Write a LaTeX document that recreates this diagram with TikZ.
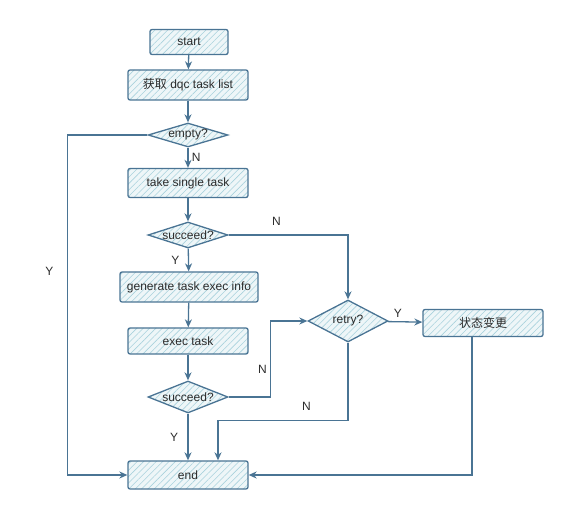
\documentclass[tikz,border=0pt]{standalone}
\usepackage{fontspec}
\setmainfont{Liberation Sans}
\newfontfamily\cjk{Noto Sans CJK SC}
\usetikzlibrary{shapes.geometric, arrows.meta, positioning, calc, patterns.meta}
\definecolor{linec}{HTML}{4A7494}
\definecolor{fillc}{HTML}{EEF6F8}
\definecolor{hatchc}{HTML}{A9D2DD}
\definecolor{textc}{HTML}{2B2B2B}

\begin{document}
\begin{tikzpicture}[x=1pt, y=-1pt, >={Stealth[length=8pt, width=7pt]}, font=\fontsize{12}{14}\selectfont, text=textc,
	proc/.style={draw=linec, line width=1.3pt, rectangle, rounded corners=2pt, minimum width=120pt, minimum height=30pt,
		preaction={fill=fillc}, pattern={Lines[angle=45, distance=4.5pt, line width=0.6pt]}, pattern color=hatchc},
	dec/.style={draw=linec, line width=1.3pt, diamond, aspect=3.2, inner sep=0pt, minimum width=80pt, minimum height=26pt,
		preaction={fill=fillc}, pattern={Lines[angle=45, distance=4.5pt, line width=0.6pt]}, pattern color=hatchc},
	link/.style={->, draw=linec, line width=1.3pt}]
				\useasboundingbox (0,0) rectangle (566,516);
				\node[proc, minimum width=78pt, minimum height=25pt] (start) at (189, 42) {start};
				\node[proc] (fetch) at (188, 85) {{\cjk 获取} dqc task list};
				\node[dec, minimum height=24pt] (empty) at (188, 135) {empty?};
				\node[proc, minimum height=29pt] (take) at (188, 183) {take single task};
				\node[dec] (ok1) at (188, 235) {succeed?};
				\node[proc, minimum width=138pt] (gen) at (189, 287) {generate task exec info};
				\node[proc, minimum height=26pt] (exec) at (188, 341) {exec task};
				\node[dec, minimum height=32pt] (ok2) at (188, 397) {succeed?};
				\node[proc, minimum height=28pt] (end) at (188, 475) {end};
				\node[dec, minimum height=42pt] (retry) at (348, 321) {retry?};
				\node[proc, minimum height=27pt] (state) at (483, 323) {\cjk 状态变更};
				
				\draw[link] (start) -- (fetch);
				\draw[link] (fetch) -- (empty);
				\draw[link] (empty) -- node[right] {N} (take);
				\draw[link] (take) -- (ok1);
				\draw[link] (ok1) -- node[left=5pt] {Y} (gen);
				\draw[link] (gen) -- (exec);
				\draw[link] (exec) -- (ok2);
				\draw[link] (ok2) -- node[left=6pt] {Y} (end);
				\draw[link] (empty.west) -- ++(-80, 0) |- node[pos=0.2, left=10pt] {Y} (end.west);
				\draw[link] (ok1.east) -| node[pos=0.2, above=6pt] {N} (retry.north);
				\draw[link] (ok2.east) -- ++(42, 0) |- node[pos=0.18, left] {N} (retry.west);
				\draw[link] (retry.south) |- node[pos=0.66, above=6pt] {N} ($(end.north)+(30, -40)$) -- ($(end.north)+(30, 0)$);
				\draw[link] (retry) -- node[pos=0.3, above] {Y} (state);
				\draw[link] ($(state.south)+(-11, 0)$) |- (end.east);
			\end{tikzpicture}
\end{document}
